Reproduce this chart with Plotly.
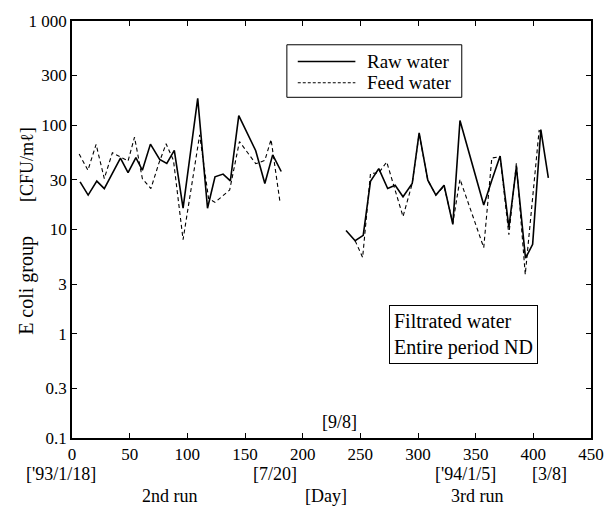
import plotly.graph_objects as go

# ---- data (day, CFU/ml) ----
raw_days_2nd = [7, 14, 21.5, 28, 42, 48.6, 55.4, 61, 68, 76, 82.2, 88.7, 96.3, 109, 117.5,
                124, 131, 137.3, 144.6, 159.3, 167.2, 174, 181.4]
raw_vals_2nd = [28.6, 21.4, 29.1, 24.7, 48.5, 35.1, 48.9, 37, 65.9, 47.1, 43.1, 57.4, 16, 180.8, 16,
                32, 34, 29.3, 123.6, 57, 27.6, 52, 36]
feed_days_2nd = [6.2, 13.8, 20.9, 28, 35, 42, 48.6, 54.2, 61, 68.4, 75.2, 81.6, 88, 96.3, 110.7,
                 118.4, 124, 136.7, 145.2, 159.3, 167.2, 172.6, 180.5]
feed_vals_2nd = [53, 37, 65.5, 30.8, 54.5, 49.5, 45.4, 76.9, 30.8, 24.7, 42.8, 66.4, 46, 8, 80.9,
                 19.9, 18.2, 23.9, 69.8, 42.8, 46, 73, 17.8]

raw_days_3rd = [237.6, 245.5, 252.5, 258.8, 266, 273.7, 280.2, 287, 295, 301, 308.5, 315.5, 322.6,
                330.2, 336.4, 357, 364, 371.2, 378.8, 385.3, 393.2, 399.4, 406.5, 413]
raw_vals_3rd = [9.8, 7.8, 8.8, 29, 38.4, 24.7, 26.6, 20.6, 27.6, 84.6, 29.7, 21.4, 26.6,
                11.2, 110.9, 17.2, 29.7, 50.7, 10.5, 39.8, 5.3, 7.2, 90.9, 31.3]
feed_days_3rd = [245.5, 252, 258.8, 266, 272.9, 287, 295, 301, 308.5, 315.5, 322.6, 330.2, 336.4,
                 357, 364, 371.2, 378.8, 385.3, 393, 405, 408]
feed_vals_3rd = [7.8, 5.4, 34.4, 35, 44.4, 13.3, 27.6, 83, 29.7, 21.4, 26, 11.5, 30.4,
                 6.7, 48.5, 50, 8.9, 43.5, 3.7, 89, 86]

y_tickvals = [0.1, 0.3, 1, 3, 10, 30, 100, 300, 1000]
y_ticktext = ["0.1", "0.3", "1", "3", "10", "30", "100", "300", "1 000"]
x_tickvals = [0, 50, 100, 150, 200, 250, 300, 350, 400, 450]

series_names = ["Raw water", "Feed water"]
date_labels = ["[7/20]", "['94/1/5]", "[3/8]"]
date_label_days = [176, 341.5, 413.6]
run_labels = ["2nd run", "[Day]", "3rd run"]
run_label_days = [85, 220, 351.7]

FONT = "Liberation Serif"
BLACK = "black"

fig = go.Figure()
fig.add_trace(go.Scatter(
    x=raw_days_2nd + [None] + raw_days_3rd,
    y=raw_vals_2nd + [None] + raw_vals_3rd,
    mode="lines", name=series_names[0], showlegend=False,
    line=dict(color=BLACK, width=1.6), connectgaps=False))
fig.add_trace(go.Scatter(
    x=feed_days_2nd + [None] + feed_days_3rd,
    y=feed_vals_2nd + [None] + feed_vals_3rd,
    mode="lines", name=series_names[1], showlegend=False,
    line=dict(color=BLACK, width=1.1, dash="4px,3px"), connectgaps=False))

axis_common = dict(showline=True, linecolor=BLACK, linewidth=1.5, mirror="ticks",
                   ticks="inside", ticklen=5, tickcolor=BLACK, showgrid=False,
                   zeroline=False, tickfont=dict(family=FONT, size=17, color=BLACK))

fig.update_xaxes(range=[0, 450], tickvals=x_tickvals, **axis_common)
fig.update_yaxes(type="log", range=[-1, 3], tickvals=y_tickvals, ticktext=y_ticktext,
                 **axis_common)

txtfont = dict(family=FONT, size=18, color=BLACK)
annotations = []
annotations.append(dict(x=-0.0207, y=-0.086, xref="paper", yref="paper", text="['93/1/18]",
                        showarrow=False, font=txtfont, xanchor="center", yanchor="middle"))
for txt, d in zip(date_labels, date_label_days):
    annotations.append(dict(x=d, y=-0.086, xref="x", yref="paper", text=txt, showarrow=False,
                            font=txtfont, xanchor="center", yanchor="middle"))
for txt, d in zip(run_labels, run_label_days):
    annotations.append(dict(x=d, y=-0.138, xref="x", yref="paper", text=txt, showarrow=False,
                            font=txtfont, xanchor="center", yanchor="middle"))
annotations.append(dict(x=232, y=0.038, xref="x", yref="paper", text="[9/8]", showarrow=False,
                        font=txtfont, xanchor="center", yanchor="middle"))
annotations.append(dict(x=-0.0866, y=0.365, xref="paper", yref="paper", text="E coli group",
                        showarrow=False, textangle=-90,
                        font=dict(family=FONT, size=20, color=BLACK),
                        xanchor="center", yanchor="middle"))
annotations.append(dict(x=-0.0866, y=0.655, xref="paper", yref="paper", text="[CFU/mℓ]",
                        showarrow=False, textangle=-90,
                        font=dict(family=FONT, size=18, color=BLACK),
                        xanchor="center", yanchor="middle"))
annotations.append(dict(x=0.754, y=0.249, xref="paper", yref="paper",
                        text="Filtrated water<br>Entire period ND", showarrow=False,
                        align="left", bordercolor=BLACK, borderwidth=1, borderpad=4,
                        bgcolor="white",
                        font=dict(family=FONT, size=20, color=BLACK),
                        xanchor="center", yanchor="middle"))

# ---- legend box (drawn manually to match the original layout) ----
# paper coords: x = (px-72)/531, y = (438-py)/420
leg_x0, leg_x1 = 0.414, 0.751
leg_y0, leg_y1 = 0.817, 0.943
line_x0, line_x1 = 0.435, 0.546
row_y = [0.903, 0.852]
line_styles = [dict(color=BLACK, width=1.6), dict(color=BLACK, width=1.1, dash="3px,2px")]
shapes = [dict(type="rect", xref="paper", yref="paper", x0=leg_x0, x1=leg_x1, y0=leg_y0,
               y1=leg_y1, line=dict(color=BLACK, width=1), fillcolor="white", layer="above")]
for name, yy, ls in zip(series_names, row_y, line_styles):
    shapes.append(dict(type="line", xref="paper", yref="paper", x0=line_x0, x1=line_x1,
                       y0=yy, y1=yy, line=ls, layer="above"))
    annotations.append(dict(x=0.565, y=yy, xref="paper", yref="paper", text=name,
                            showarrow=False, xanchor="left", yanchor="middle",
                            font=dict(family=FONT, size=19, color=BLACK)))

fig.update_layout(
    width=616, height=509,
    margin=dict(l=72, r=13, t=18, b=71),
    paper_bgcolor="white", plot_bgcolor="white",
    font=dict(family=FONT, color=BLACK),
    showlegend=False,
    annotations=annotations,
    shapes=shapes,
)

fig.write_html("out.html")
